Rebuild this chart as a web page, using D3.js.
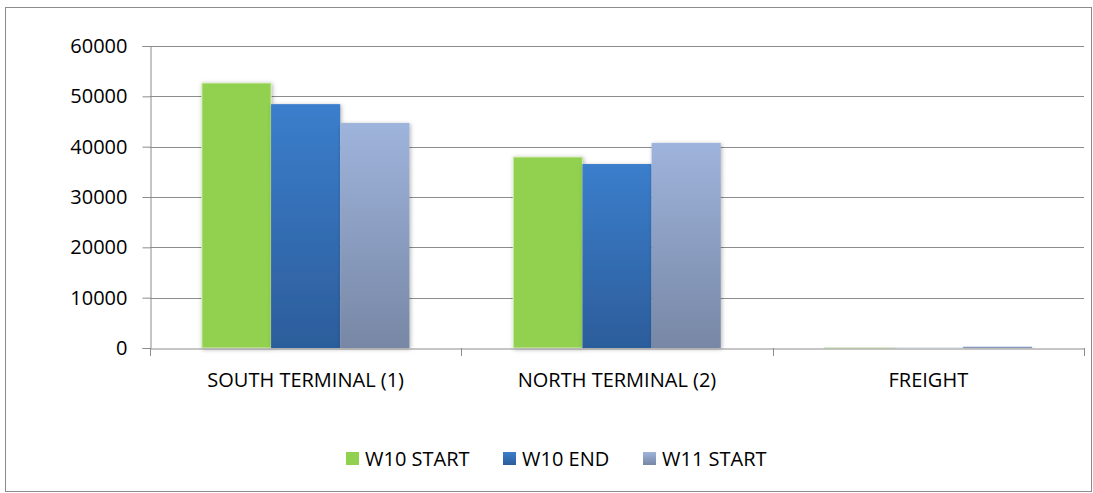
<!DOCTYPE html>
<html>
<head>
<meta charset="utf-8">
<script src="https://cdn.jsdelivr.net/npm/d3@7"></script>
<style>
  body { margin: 0; background: #fff; }
  text { font-family: "Open Sans", "Liberation Sans", sans-serif; fill: #000; }
</style>
</head>
<body>
<svg id="chart"></svg>
<script>
// Base SVG values
let width = 1093
let height = 493

// chart data
let categories = ["SOUTH TERMINAL (1)", "NORTH TERMINAL (2)", "FREIGHT"]
let seriesNames = ["W10 START", "W10 END", "W11 START"]
let w10Start = [52650, 37950, 30]
let w10End = [48450, 36550, 30]
let w11Start = [44700, 40750, 260]
let yTicks = [0, 10000, 20000, 30000, 40000, 50000, 60000]

let padding = { left: 150, top: 46, right: 9, bottom: 145 }

let svg = d3.select("#chart")
	.attr("width", width)
	.attr("height", height)

// gradients for the bars
let defs = svg.append("defs")
let grads = [
	{ id: "g0", top: "#92d050", bottom: "#92d050" },
	{ id: "g1", top: "#3b7ecc", bottom: "#2c5d9b" },
	{ id: "g2", top: "#9fb4dc", bottom: "#7787a5" }
]
grads.forEach(g => {
	let lg = defs.append("linearGradient")
		.attr("id", g.id)
		.attr("x1", 0).attr("y1", 0).attr("x2", 0).attr("y2", 1)
	lg.append("stop").attr("offset", "0%").attr("stop-color", g.top)
	lg.append("stop").attr("offset", "100%").attr("stop-color", g.bottom)
})
let shadow = defs.append("filter").attr("id", "shadow")
	.attr("x", "-20%").attr("y", "-20%").attr("width", "140%").attr("height", "140%")
shadow.append("feDropShadow")
	.attr("dx", 1).attr("dy", 1).attr("stdDeviation", 2)
	.attr("flood-color", "#000").attr("flood-opacity", 0.3)

// outer border
svg.append("rect")
	.attr("x", 5.5).attr("y", 7.5)
	.attr("width", 1086).attr("height", 484)
	.attr("fill", "none").attr("stroke", "#8c8c8c")

// scales
let yScale = d3.scaleLinear()
	.domain([0, 60000])
	.range([height - padding.bottom, padding.top])

let xScale = d3.scaleBand()
	.domain(categories)
	.range([padding.left, width - padding.right])

// gap width 75% on each side of the bar group
let xInner = d3.scaleBand()
	.domain(seriesNames)
	.range([0, xScale.bandwidth()])
	.paddingInner(0)
	.paddingOuter(0.75)

// gridlines
svg.append("g")
	.selectAll("line")
	.data(yTicks.slice(1))
	.enter()
	.append("line")
		.attr("x1", padding.left)
		.attr("x2", width - padding.right)
		.attr("y1", d => Math.round(yScale(d)) + 0.5)
		.attr("y2", d => Math.round(yScale(d)) + 0.5)
		.attr("stroke", "#8c8c8c")

// bars
let table = categories.map((c, i) => ({
	cat: c,
	values: [w10Start[i], w10End[i], w11Start[i]]
}))

let groups = svg.append("g")
	.selectAll("g")
	.data(table)
	.enter()
	.append("g")
		.attr("transform", d => `translate(${xScale(d.cat)},0)`)

groups.selectAll("rect")
	.data(d => d.values.map((v, j) => ({ name: seriesNames[j], v: v, j: j })))
	.enter()
	.append("rect")
		.attr("x", d => xInner(d.name))
		.attr("width", xInner.bandwidth())
		.attr("y", d => yScale(d.v))
		.attr("height", d => yScale(0) - yScale(d.v))
		.attr("fill", d => `url(#g${d.j})`)
		.attr("filter", "url(#shadow)")
		.attr("stroke", d => d.j === 0 ? "#d4ecbc" : "none")
		.attr("stroke-width", 1)

// y axis
let axisY = d3.axisLeft(yScale)
	.tickValues(yTicks)
	.tickSize(8)
	.tickFormat(d3.format("d"))

svg.append("g")
	.attr("class", "axis")
	.attr("transform", `translate(${padding.left + 0.5},0)`)
	.call(axisY)
	.call(g => g.select(".domain").attr("stroke", "#8c8c8c"))
	.call(g => g.selectAll(".tick line").attr("stroke", "#8c8c8c"))
	.call(g => g.selectAll(".tick text")
		.attr("x", -23)
		.style("font-size", "20px"))

// x axis
let axisX = d3.axisBottom(xScale)
	.tickSize(0)
	.tickSizeOuter(0)

svg.append("g")
	.attr("class", "axis")
	.attr("transform", `translate(0,${Math.round(yScale(0)) + 0.5})`)
	.call(axisX)
	.call(g => g.select(".domain").attr("stroke", "#8c8c8c"))
	.call(g => g.selectAll(".tick text")
		.attr("y", 24)
		.style("font-size", "20px"))

// x ticks on band edges
let edges = categories.map(c => xScale(c)).concat([xScale.range()[1]])
svg.append("g")
	.selectAll("line")
	.data(edges)
	.enter()
	.append("line")
		.attr("x1", d => Math.round(d) + 0.5)
		.attr("x2", d => Math.round(d) + 0.5)
		.attr("y1", Math.round(yScale(0)))
		.attr("y2", Math.round(yScale(0)) + 8)
		.attr("stroke", "#8c8c8c")

// legend
let legendX = [346, 503, 643]
let legend = svg.append("g")
	.selectAll("g")
	.data(seriesNames)
	.enter()
	.append("g")
		.attr("transform", (d, i) => `translate(${legendX[i]},452)`)
legend.append("rect")
	.attr("width", 13).attr("height", 13)
	.attr("fill", (d, i) => `url(#g${i})`)
legend.append("text")
	.attr("x", 19)
	.attr("y", 14)
	.style("font-size", "20px")
	.text(d => d)
</script>
</body>
</html>
